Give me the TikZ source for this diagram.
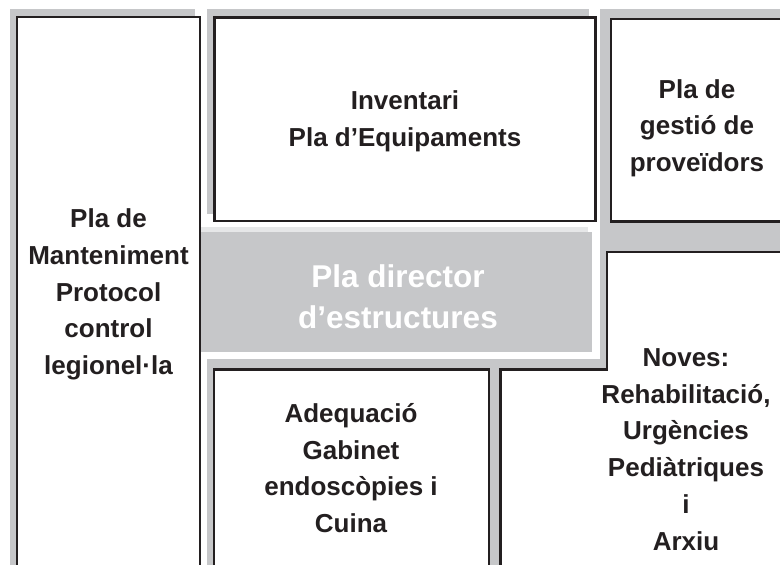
\documentclass[tikz,border=0pt]{standalone}
\usepackage{fontspec}
\setmainfont{Liberation Sans}
\definecolor{shade}{HTML}{C6C7C9}
\definecolor{pale}{HTML}{E6E7E8}
\definecolor{ink}{HTML}{231F20}
\begin{document}
\begin{tikzpicture}[x=1pt,y=-1pt,
 shadowfill/.style={fill=shade,draw=none},
 panel/.style={fill=white,draw=ink,line width=2.5pt},
 boxlabel/.style={text=ink,align=center,font=\bfseries\fontsize{26}{36.7}\selectfont,inner sep=0pt},
 titlelabel/.style={text=white,align=center,font=\bfseries\fontsize{31.5}{41}\selectfont,inner sep=0pt}]
\useasboundingbox (0,0) rectangle (780,565);
\begin{scope}
\clip (0,0) rectangle (780,565);
% shadows
\fill[shadowfill] (10,9) rectangle (195,580);
\fill[shadowfill] (207,9) rectangle (589,214);
\fill[shadowfill] (600,9) rectangle (790,260);
\fill[shadowfill] (600,245) -- (790,245) -- (790,580) -- (493,580) -- (493,359) -- (600,359) -- cycle;
\fill[shadowfill] (206.5,359) rectangle (495,580);
% panels
\draw[panel] (17,17) rectangle (200,590);
\draw[panel] (214.5,17.5) rectangle (595.5,221);
\draw[panel] (611,19) rectangle (800,221.5);
\draw[panel] (214,369.5) rectangle (489,590);
\draw[panel] (800,252) -- (607,252) -- (607,369.5) -- (500.5,369.5) -- (500.5,590) -- (800,590) -- cycle;
% centre band
\fill[pale] (201.3,227) rectangle (588,233);
\fill[shadowfill] (201.3,232) rectangle (592,352);
\end{scope}
\node[boxlabel] (mant) at (108.5,294.5) {Pla de\\Manteniment\\Protocol\\control\\legionel·la};
\node[boxlabel] (inv) at (405,121) {Inventari\\Pla d’Equipaments};
\node[boxlabel] (prov) at (697,128) {Pla de\\gestió de\\proveïdors};
\node[titlelabel] (pde) at (398,296.5) {Pla director\\d’estructures};
\node[boxlabel] (adeq) at (351,468) {Adequació\\Gabinet\\endoscòpies i\\Cuina};
\node[boxlabel] (noves) at (686,449.5) {Noves:\\Rehabilitació,\\Urgències\\Pediàtriques\\i\\Arxiu};
\end{tikzpicture}
\end{document}
